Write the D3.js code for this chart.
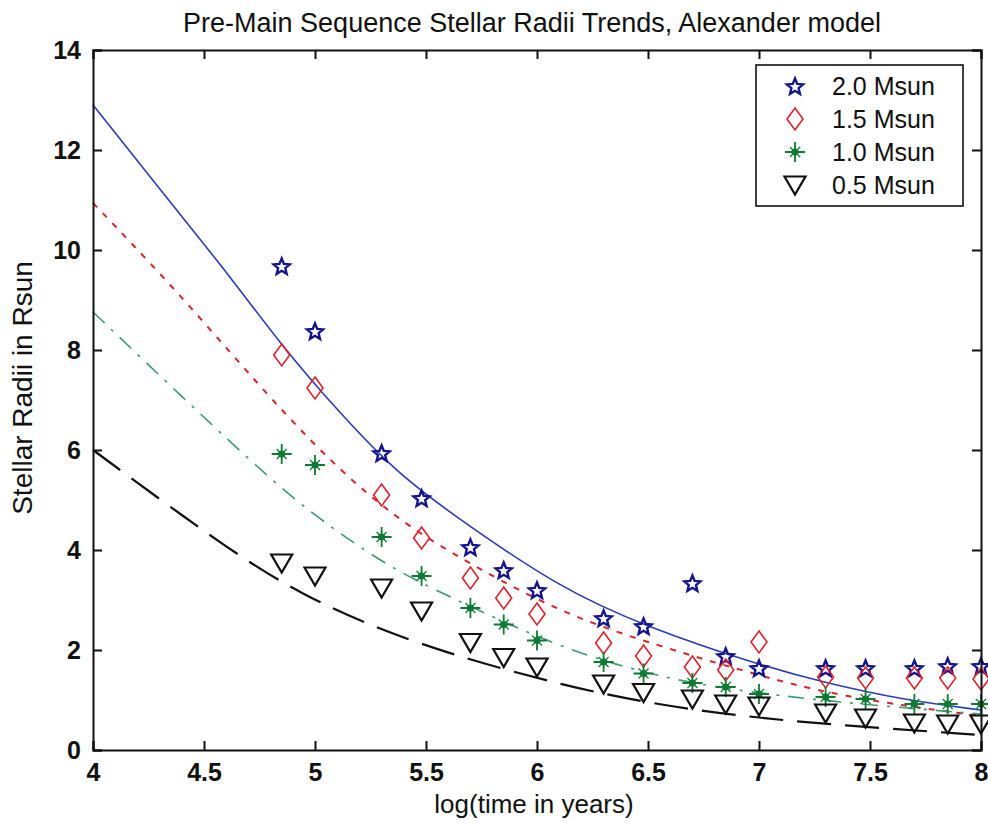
<!DOCTYPE html>
<html>
<head>
<meta charset="utf-8">
<script src="https://cdn.jsdelivr.net/npm/d3@7"></script>
<style>
  body { margin: 0; background: #fff; }
  svg text { font-family: "Liberation Sans", Arial, sans-serif; fill: #111; }
</style>
</head>
<body>
<div id="chart"></div>
<script>
// --- data ---
const logTime = [4.85, 5.0, 5.3, 5.48, 5.7, 5.85, 6.0, 6.3, 6.48, 6.7, 6.85, 7.0, 7.3, 7.48, 7.7, 7.85, 8.0];

const radius20 = [9.68, 8.38, 5.94, 5.04, 4.06, 3.6, 3.2, 2.64, 2.48, 3.34, 1.88, 1.64, 1.64, 1.64, 1.64, 1.68, 1.68];
const radius15 = [7.9, 7.24, 5.1, 4.24, 3.44, 3.04, 2.72, 2.14, 1.88, 1.66, 1.6, 2.16, 1.46, 1.44, 1.44, 1.44, 1.42];
const radius10 = [5.92, 5.7, 4.26, 3.48, 2.84, 2.51, 2.19, 1.76, 1.53, 1.34, 1.26, 1.12, 1.06, 1.02, 0.92, 0.92, 0.92];
const radius05 = [3.74, 3.48, 3.24, 2.78, 2.15, 1.85, 1.66, 1.32, 1.15, 1.02, 0.92, 0.88, 0.74, 0.64, 0.54, 0.52, 0.52];

// fitted trend curves
const fit20x = [4, 4.34, 4.62, 4.84, 5.11, 5.37, 5.61, 6.1, 6.5, 7.0, 7.3, 7.65, 8];
const fit20y = [12.9, 11.0, 9.46, 8.14, 6.74, 5.54, 4.74, 3.24, 2.45, 1.7, 1.34, 1.0, 0.8];
const fit15x = [4, 4.34, 4.62, 4.86, 5.11, 5.36, 5.61, 6.1, 6.55, 6.93, 7.36, 8];
const fit15y = [10.94, 9.36, 7.94, 6.74, 5.6, 4.66, 3.94, 2.74, 2.08, 1.58, 1.06, 0.68];
const fit10x = [4, 4.34, 4.7, 4.92, 5.14, 5.36, 5.58, 6.1, 6.52, 6.81, 7.35, 8];
const fit10y = [8.76, 7.32, 5.82, 4.96, 4.24, 3.6, 3.12, 2.04, 1.5, 1.24, 0.95, 0.72];
const fit05x = [4, 4.66, 4.96, 5.19, 5.56, 6.14, 6.55, 6.95, 7.35, 8];
const fit05y = [6.0, 3.84, 3.08, 2.6, 1.97, 1.26, 0.9, 0.66, 0.5, 0.3];

const xTicks = [4, 4.5, 5, 5.5, 6, 6.5, 7, 7.5, 8];
const yTicks = [0, 2, 4, 6, 8, 10, 12, 14];
const legendLabels = ["2.0 Msun", "1.5 Msun", "1.0 Msun", "0.5 Msun"];

// --- layout ---
const W = 988, H = 829;
const margin = { top: 50, right: 7, bottom: 79, left: 93 };
const iw = W - margin.left - margin.right;
const ih = H - margin.top - margin.bottom;

const svg = d3.select("#chart").append("svg")
    .attr("width", W).attr("height", H);
const g = svg.append("g").attr("transform", `translate(${margin.left},${margin.top})`);

const x = d3.scaleLinear().domain([4, 8]).range([0, iw]);
const y = d3.scaleLinear().domain([0, 14]).range([ih, 0]);

// marker shapes, MATLAB style
const starPath = (() => {
    const pts = [];
    for (let i = 0; i < 10; i++) {
        const r = i % 2 === 0 ? 8.5 : 3.8;
        const a = -Math.PI / 2 + i * Math.PI / 5;
        pts.push([r * Math.cos(a), r * Math.sin(a) + 1]);
    }
    return "M" + pts.map(p => p.join(",")).join("L") + "Z";
})();
const diamondPath = "M0,-11L8,0L0,11L-8,0Z";
const trianglePath = "M-10.5,-8.5L10.5,-8.5L0,9.5Z";

const drawMarker = (sel, kind) => {
    if (kind === "star") {
        sel.append("path").attr("d", starPath)
            .attr("fill", "none").attr("stroke", "#14148c").attr("stroke-width", 2.4)
            .attr("stroke-linejoin", "miter");
    } else if (kind === "diamond") {
        sel.append("path").attr("d", diamondPath)
            .attr("fill", "none").attr("stroke", "#e0202a").attr("stroke-width", 1.6);
    } else if (kind === "asterisk") {
        const c = "#0e7a32";
        sel.append("path").attr("d", "M-10,0L10,0M0,-10L0,10")
            .attr("stroke", c).attr("stroke-width", 1.8);
        sel.append("path").attr("d", "M-5,-5L5,5M-5,5L5,-5")
            .attr("stroke", c).attr("stroke-width", 1.2);
        sel.append("circle").attr("r", 3.6).attr("fill", c);
    } else {
        sel.append("path").attr("d", trianglePath)
            .attr("fill", "none").attr("stroke", "#111").attr("stroke-width", 2.2);
    }
};

const series = [
    { vals: radius20, fx: fit20x, fy: fit20y, marker: "star", color: "#2a3db4", dash: null, w: 1.6 },
    { vals: radius15, fx: fit15x, fy: fit15y, marker: "diamond", color: "#d4262e", dash: "6,8", w: 2 },
    { vals: radius10, fx: fit10x, fy: fit10y, marker: "asterisk", color: "#3d9a70", dash: "16,9,3,9", w: 1.6 },
    { vals: radius05, fx: fit05x, fy: fit05y, marker: "triangle", color: "#111", dash: "34,14", w: 2.2 }
];

const line = d3.line().x(d => x(d[0])).y(d => y(d[1])).curve(d3.curveBasis);

// trend lines
series.forEach(s => {
    g.append("path")
        .datum(d3.zip(s.fx, s.fy))
        .attr("d", line)
        .attr("fill", "none")
        .attr("stroke", s.color)
        .attr("stroke-width", s.w)
        .attr("stroke-dasharray", s.dash);
});

// points
series.forEach(s => {
    g.append("g").selectAll("g")
        .data(d3.zip(logTime, s.vals))
        .join("g")
        .attr("transform", d => `translate(${x(d[0])},${y(d[1])})`)
        .each(function () { drawMarker(d3.select(this), s.marker); });
});

// axes box with inward ticks on all sides
const tl = 9;
const axisStyle = a => {
    a.select(".domain").attr("stroke", "#111").attr("stroke-width", 2);
    a.selectAll(".tick line").attr("stroke", "#111").attr("stroke-width", 2);
};
const fontTick = a => a.selectAll("text")
    .style("font-size", "25px").style("font-weight", "bold").attr("fill", "#111");

g.append("g").attr("transform", `translate(0,${ih})`)
    .call(d3.axisBottom(x).tickValues(xTicks).tickSize(-tl).tickPadding(13).tickFormat(d3.format("")))
    .call(axisStyle).call(fontTick)
    .selectAll("text").attr("dy", "0.71em");
g.append("g")
    .call(d3.axisTop(x).tickValues(xTicks).tickSize(-tl).tickFormat(""))
    .call(axisStyle);
g.append("g")
    .call(d3.axisLeft(y).tickValues(yTicks).tickSize(-tl).tickPadding(12))
    .call(axisStyle).call(fontTick);
g.append("g").attr("transform", `translate(${iw},0)`)
    .call(d3.axisRight(y).tickValues(yTicks).tickSize(-tl).tickFormat(""))
    .call(axisStyle);

// legend
const leg = svg.append("g").attr("transform", "translate(756,65)");
leg.append("rect").attr("width", 207).attr("height", 141)
    .attr("fill", "#fff").attr("stroke", "#111").attr("stroke-width", 1.6);
series.forEach((s, i) => {
    const row = leg.append("g").attr("transform", `translate(0,${21 + i * 33})`);
    drawMarker(row.append("g").attr("transform", "translate(39,0)"), s.marker);
    row.append("text").attr("x", 76).attr("dy", "0.36em")
        .style("font-size", "25px").text(legendLabels[i]);
});

// titles
svg.append("text").attr("x", 532).attr("y", 32).attr("text-anchor", "middle")
    .style("font-size", "27px")
    .text("Pre-Main Sequence Stellar Radii Trends, Alexander model");
svg.append("text").attr("x", 534).attr("y", 813).attr("text-anchor", "middle")
    .style("font-size", "26px").text("log(time in years)");
svg.append("text").attr("transform", "translate(32,388) rotate(-90)")
    .attr("text-anchor", "middle").style("font-size", "28px")
    .text("Stellar Radii in Rsun");
</script>
</body>
</html>
